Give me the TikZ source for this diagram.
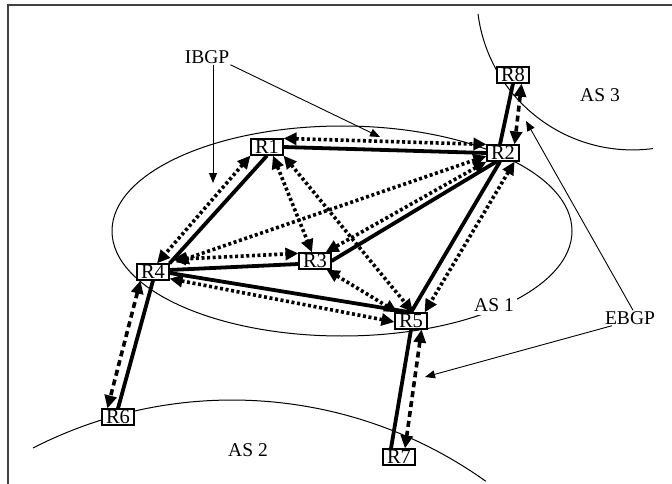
\documentclass[tikz,border=0pt]{standalone}
\usepackage{fontspec}
\setmainfont{Liberation Serif}
\usetikzlibrary{arrows.meta,positioning}
\tikzset{
    router/.style={
    rectangle,draw=black,fill=white,line width=1.2pt,inner xsep=4pt,inner ysep=1pt,text height=13.5pt,text depth=0.5pt,font=\fontsize{20.5}{21}\selectfont
    },
    tag/.style={
    inner sep=1pt,font=\fontsize{19.5}{20}\selectfont
    },
    link/.style={
    line width=3.8pt
    },
    ibgp/.style={
    line width=3.6pt,dash pattern=on 3pt off 2.6pt,{Triangle[length=13pt,width=12pt]}-{Triangle[length=13pt,width=12pt]}
    },
    ebgp/.style={
    line width=3.6pt,dash pattern=on 6pt off 4pt,{Triangle[length=13pt,width=12pt]}-{Triangle[length=13pt,width=12pt]}
    },
    note/.style={
    line width=0.9pt,-{Triangle[length=10pt,width=8pt]}
    },
    ascurve/.style={
    line width=1pt
    },
}
\begin{document}
\begin{tikzpicture}[x=1pt,y=-1pt]
   \useasboundingbox (0,0) rectangle (672,484);
   \draw[line width=1.5pt,black!75] (8,484) -- (8,5) -- (672,5);
   % autonomous systems
   \draw[ascurve] (342,231) ellipse [x radius=230pt, y radius=105pt];
   \draw[ascurve] (33,448) arc[start angle=117.1, end angle=54.5, radius=437pt];
   \draw[ascurve] (478,14) arc[start angle=187.4, end angle=277.4, radius=156pt];
   \node[tag,fill=white,inner sep=3pt] (as1) at (494,305) {AS 1};
   \node[tag] (as2) at (248,450) {AS 2};
   \node[tag] (as3) at (600,95) {AS 3};

   \node[router] (R8) at (513,75) {R8};
   \node[router] (R1) at (267,147) {R1};
   \node[router] (R2) at (503,153) {R2};
   \node[router] (R3) at (315,261) {R3};
   \node[router] (R4) at (153,272) {R4};
   \node[router] (R5) at (411,321) {R5};
   \node[router] (R6) at (118,417) {R6};
   \node[router] (R7) at (399,457) {R7};

   % physical links
   \draw[link] (R1.east) -- (R2.west);
   \draw[link] (R1.south) -- (R4.north east);
   \draw[link] ([xshift=10pt]R2.south west) -- (R3.east);
   \draw[link] ([xshift=-3pt]R2.south) -- (R5.north);
   \draw[link] ([yshift=2pt]R4.east) -- ([yshift=-3pt]R3.west);
   \draw[link] ([yshift=-1pt]R4.east) -- (R5.north);
   \draw[link] (R8.south) -- ([xshift=-3pt]R2.north);
   \draw[link] (R4.south) -- (R6.north);
   \draw[link] (R5.south) -- ([xshift=-8pt]R7.north);

   % sessions
   \draw[ibgp] (R1.north east) -- (R2.north west);
   \draw[ibgp] (R1.south west) -- ([xshift=4pt]R4.north);
   \draw[ibgp] ([xshift=6pt]R1.south) -- ([xshift=-3pt]R3.north);
   \draw[ibgp] (R1.south east) -- ([xshift=2pt]R5.north);
   \draw[ibgp] (R2.south west) -- ([xshift=-6pt]R3.north east);
   \draw[ibgp] ([yshift=-3pt]R2.west) -- ([xshift=6pt,yshift=1pt]R4.north east);
   \draw[ibgp] ([xshift=3pt,yshift=4pt]R4.north east) -- ([yshift=-1pt]R3.north west);
   \draw[ibgp] ([yshift=2pt]R4.south east) -- ([yshift=-1pt]R5.west);
   \draw[ibgp] ([xshift=-5pt]R3.south east) -- ([xshift=3pt]R5.north west);
   \draw[ibgp] ([xshift=-5pt]R2.south east) -- ([xshift=-3pt]R5.north east);
   \draw[ebgp] ([xshift=-8pt]R8.south east) -- ([xshift=-5pt]R2.north east);
   \draw[ebgp] ([xshift=-6pt]R5.south east) -- ([xshift=6pt]R7.north);
   \draw[ebgp] ([xshift=4pt]R4.south west) -- ([xshift=6pt]R6.north west);

   \node[tag] (ibgp) at (207,57) {IBGP};
   \node[tag] (ebgp) at (630,318) {EBGP};
   \coordinate (ibgpA) at (213,183);
   \coordinate (ibgpB) at (380,137);
   \coordinate (ebgpA) at (526,121);
   \coordinate (ebgpB) at (425,377);
   \draw[note] ([xshift=6pt]ibgp.south) -- (ibgpA);
   \draw[note] (ibgp.south east) -- (ibgpB);
   \draw[note] ([xshift=3pt]ebgp.north) -- (ebgpA);
   \draw[note] ([xshift=8pt]ebgp.south west) -- (ebgpB);
\end{tikzpicture}
\end{document}
